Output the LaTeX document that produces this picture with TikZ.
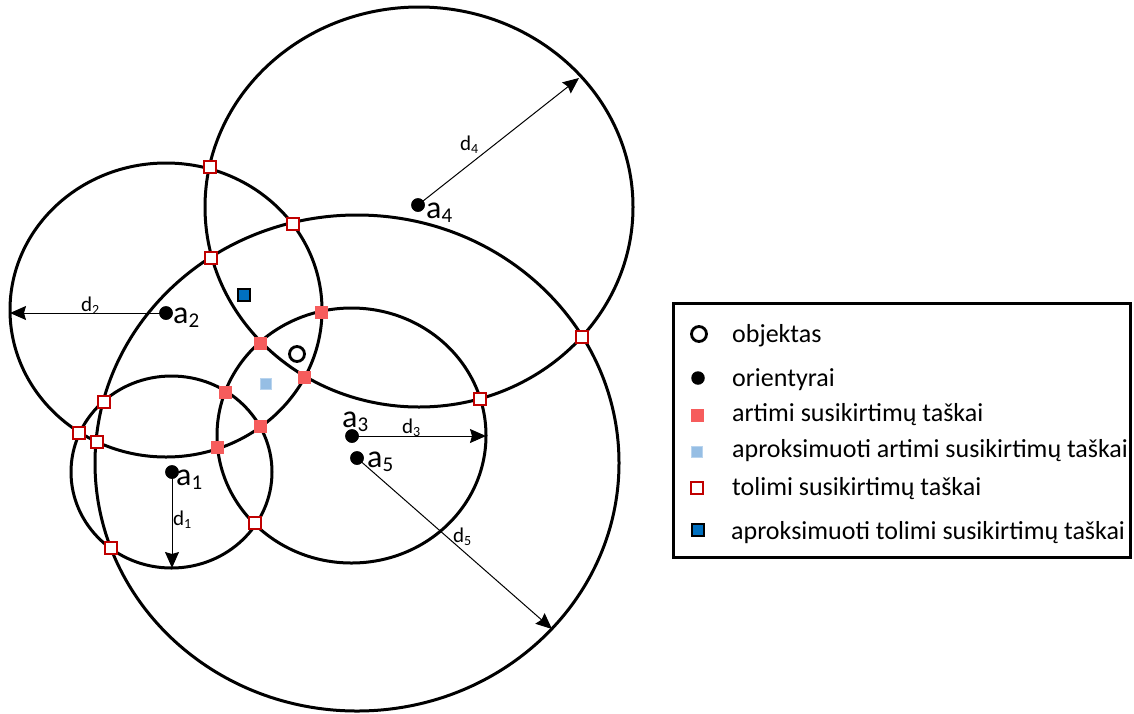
\documentclass[tikz,border=0pt]{standalone}
\usepackage{fontspec}
\setmainfont{Carlito}
\usetikzlibrary{arrows.meta}

\definecolor{nearred}{RGB}{246,92,92}
\definecolor{farred}{RGB}{192,0,0}
\definecolor{apxblue}{RGB}{150,190,228}
\definecolor{apxedge}{RGB}{185,212,238}
\definecolor{farblue}{RGB}{0,112,192}

% anchor point label a_i and distance label d_i
\newcommand{\anchorlbl}[2]{{\fontsize{32}{32}\selectfont #1}\raisebox{-4pt}{\fontsize{21}{21}\selectfont #2}}
\newcommand{\distlbl}[2]{{\fontsize{21}{21}\selectfont #1}\raisebox{-3pt}{\fontsize{14}{14}\selectfont #2}}

\begin{document}
\begin{tikzpicture}[x=1pt,y=-1pt,
  ring/.style={draw=black,line width=3pt},
  arr/.style={line width=1pt,-{Stealth[length=16pt,width=14pt,inset=2pt]}},
  dot/.style={circle,fill=black,inner sep=0pt,minimum size=13.5pt},
  near/.style={rectangle,fill=nearred,inner sep=0pt,minimum size=13pt},
  nearapx/.style={rectangle,fill=apxblue,draw=apxedge,line width=0.6pt,inner sep=0pt,minimum size=11.5pt},
  far/.style={rectangle,fill=white,draw=farred,line width=2pt,inner sep=0pt,minimum size=12pt},
  farapx/.style={rectangle,fill=farblue,draw=black,line width=1.6pt,inner sep=0pt,minimum size=11.5pt},
  obj/.style={circle,draw=black,line width=2.8pt,inner sep=0pt,minimum size=15pt},
  lbl/.style={anchor=base west,inner sep=0pt},
  legtext/.style={anchor=base west,inner sep=0pt,font=\fontsize{26}{26}\selectfont},
]
\useasboundingbox (0,0) rectangle (1134,713);

% range ellipses around the five landmarks
\draw[ring] (171.5,472) ellipse [x radius=100.5pt, y radius=96pt];
\draw[ring] (166,310) ellipse [x radius=156pt, y radius=147pt];
\draw[ring] (351.5,435.5) ellipse [x radius=134.5pt, y radius=127.5pt];
\draw[ring] (419,207) ellipse [x radius=214pt, y radius=200pt];
\draw[ring] (357,463) ellipse [x radius=262pt, y radius=248pt];

% landmarks
\node[dot] (a1) at (172,472) {};
\node[dot] (a2) at (166,313) {};
\node[dot] (a3) at (352,436) {};
\node[dot] (a4) at (418,205) {};
\node[dot] (a5) at (357,458) {};

% ends of the distance arrows
\coordinate (e1) at (172,568);
\coordinate (e2) at (10,313);
\coordinate (e3) at (486,436);
\coordinate (e4) at (579,78);
\coordinate (e5) at (552,629);

\draw[arr] (a1.center) -- (e1);
\draw[arr] (a2.center) -- (e2);
\draw[arr] (a3.center) -- (e3);
\draw[arr] (a4.center) -- (e4);
\draw[arr] (a5.center) -- (e5);

% redraw dots over the arrow stems
\fill (a1) circle (6.75pt);
\fill (a2) circle (6.75pt);
\fill (a3) circle (6.75pt);
\fill (a4) circle (6.75pt);
\fill (a5) circle (6.75pt);

% labels
\node[lbl] (la1) at (176,485) {\anchorlbl{a}{1}};
\node[lbl] (la2) at (173,323) {\anchorlbl{a}{2}};
\node[lbl] (la3) at (342,427) {\anchorlbl{a}{3}};
\node[lbl] (la4) at (426,218) {\anchorlbl{a}{4}};
\node[lbl] (la5) at (367,467) {\anchorlbl{a}{5}};

\node[lbl] (ld1) at (173,525) {\distlbl{d}{1}};
\node[lbl] (ld2) at (81,311) {\distlbl{d}{2}};
\node[lbl] (ld3) at (402,433) {\distlbl{d}{3}};
\node[lbl] (ld4) at (460,150) {\distlbl{d}{4}};
\node[lbl] (ld5) at (453,542) {\distlbl{d}{5}};

% near intersection points
\node[near] (n1) at (321,312) {};
\node[near] (n2) at (260,343) {};
\node[near] (n3) at (304,377) {};
\node[near] (n4) at (225,392) {};
\node[near] (n5) at (260,426) {};
\node[near] (n6) at (217,447) {};

% far intersection points
\node[far] (f1) at (210,167) {};
\node[far] (f2) at (293,224) {};
\node[far] (f3) at (211,258) {};
\node[far] (f4) at (582,337) {};
\node[far] (f5) at (480,399) {};
\node[far] (f6) at (104,402) {};
\node[far] (f7) at (79,433) {};
\node[far] (f8) at (97,442) {};
\node[far] (f9) at (255,523) {};
\node[far] (f10) at (111,548) {};

% approximated points and the object
\node[farapx] (fa) at (244,295) {};
\node[nearapx] (na) at (266,384) {};
\node[obj] (obj) at (297,354) {};

% legend
\node[draw=black,line width=2.6pt,minimum width=457pt,minimum height=254pt,inner sep=0pt] (legend) at (901.7,430.2) {};
\node[obj] (k1) at (699,334) {};
\node[legtext] (t1) at (732,342) {objektas};
\node[dot] (k2) at (698,378) {};
\node[legtext] (t2) at (732,386) {orientyrai};
\node[near] (k3) at (697,415) {};
\node[legtext] (t3) at (732,421) {artimi susikirtimų taškai};
\node[nearapx] (k4) at (697,452) {};
\node[legtext] (t4) at (732,457) {aproksimuoti artimi susikirtimų taškai};
\node[far] (k5) at (697,488) {};
\node[legtext] (t5) at (732,495) {tolimi susikirtimų taškai};
\node[farapx] (k6) at (698,530) {};
\node[legtext] (t6) at (731,539) {aproksimuoti tolimi susikirtimų taškai};
\end{tikzpicture}
\end{document}
